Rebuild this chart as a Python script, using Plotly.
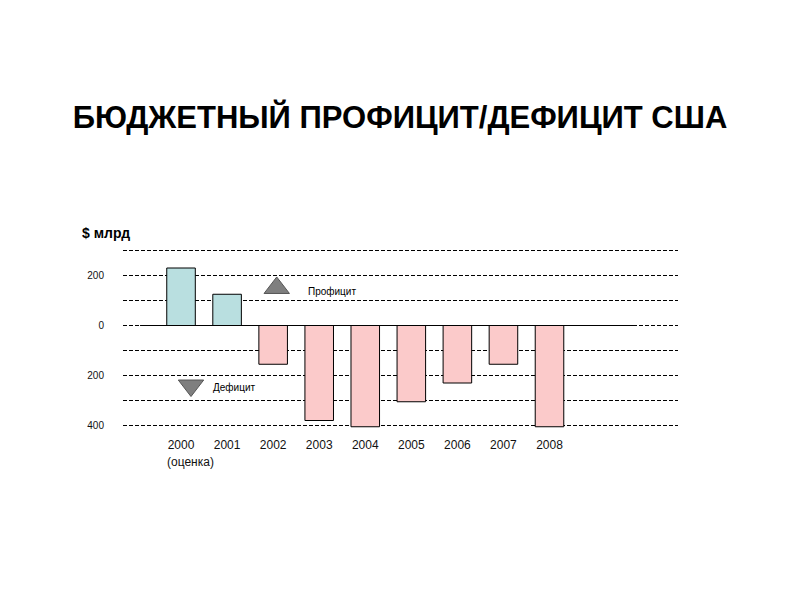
import plotly.graph_objects as go

# US federal budget balance, $ billions (2000 is an estimate)
years = ["2000", "2001", "2002", "2003", "2004", "2005", "2006", "2007", "2008"]
balance = [230, 125, -155, -380, -405, -305, -230, -155, -405]

# y-axis ticks: labels show magnitudes only
y_tickvals = [-400, -300, -200, -100, 0, 100, 200, 300]
y_ticktext = ["400", "", "200", "", "0", "", "200", ""]

SURPLUS_COLOR = "#b9dfe0"
DEFICIT_COLOR = "#fbcaca"
colors = [SURPLUS_COLOR if v >= 0 else DEFICIT_COLOR for v in balance]

FONT = "Liberation Sans, Arial, sans-serif"

fig = go.Figure()

fig.add_trace(go.Bar(
    x=years,
    y=balance,
    marker=dict(color=colors, line=dict(color="#000000", width=1)),
    width=0.62,
    showlegend=False,
    hoverinfo="x+y",
))

# key markers (surplus / deficit) drawn on an overlay axis in unit coordinates
fig.add_trace(go.Scatter(
    x=[0.277, 0.1225],
    y=[0.778, 0.236],
    mode="markers",
    marker=dict(symbol=["triangle-up", "triangle-down"], size=22,
                color="#7f7f7f", line=dict(color="#555555", width=1)),
    xaxis="x2", yaxis="y2",
    showlegend=False,
    hoverinfo="skip",
))

fig.update_layout(
    width=800,
    height=600,
    paper_bgcolor="#ffffff",
    plot_bgcolor="#ffffff",
    margin=dict(l=123, r=122, t=248, b=172),
    font=dict(family=FONT, color="#000000", size=11),
    title=dict(
        text="<b>БЮДЖЕТНЫЙ ПРОФИЦИТ/ДЕФИЦИТ США</b>",
        x=0.5, xanchor="center",
        y=1 - 117 / 600, yanchor="middle",
        yref="container",
        font=dict(family=FONT, size=31, color="#000000"),
    ),
    xaxis=dict(
        type="category",
        range=[-1.26, 10.79],
        showgrid=False,
        zeroline=False,
        showline=False,
        ticks="",
        ticklabelstandoff=8,
        tickfont=dict(size=12, color="#111111"),
    ),
    yaxis=dict(
        range=[-410, 310],
        tickvals=y_tickvals,
        ticktext=y_ticktext,
        showgrid=True,
        gridcolor="#000000",
        gridwidth=1,
        griddash="4px,2px",
        zeroline=False,
        showline=False,
        ticks="",
        ticklabelstandoff=18,
        tickfont=dict(size=10, color="#111111"),
    ),
    xaxis2=dict(overlaying="x", range=[0, 1], visible=False),
    yaxis2=dict(overlaying="y", range=[0, 1], visible=False),
    shapes=[
        # solid baseline through the bars
        dict(type="line", xref="x", yref="y", x0=-0.89, x1=9.88, y0=0, y1=0,
             line=dict(color="#000000", width=1.2), layer="above"),
    ],
    annotations=[
        dict(text="<b>$ млрд</b>", xref="paper", yref="paper",
             x=(80 - 123) / 555, y=(428 - 233) / 180,
             xanchor="left", yanchor="middle", showarrow=False,
             font=dict(family=FONT, size=14, color="#000000")),
        dict(text="Профицит", xref="paper", yref="paper",
             x=(306 - 123) / 555, y=(428 - 291) / 180,
             xanchor="left", yanchor="middle", showarrow=False,
             font=dict(family=FONT, size=10, color="#000000")),
        dict(text="Дефицит", xref="paper", yref="paper",
             x=(211 - 123) / 555, y=(428 - 387) / 180,
             xanchor="left", yanchor="middle", showarrow=False,
             font=dict(family=FONT, size=10, color="#000000")),
        dict(text="(оценка)", xref="paper", yref="paper",
             x=(165 - 123) / 555, y=(428 - 462) / 180,
             xanchor="left", yanchor="middle", showarrow=False,
             font=dict(family=FONT, size=12, color="#111111")),
    ],
    bargap=0.38,
)

fig.write_html("out.html")
